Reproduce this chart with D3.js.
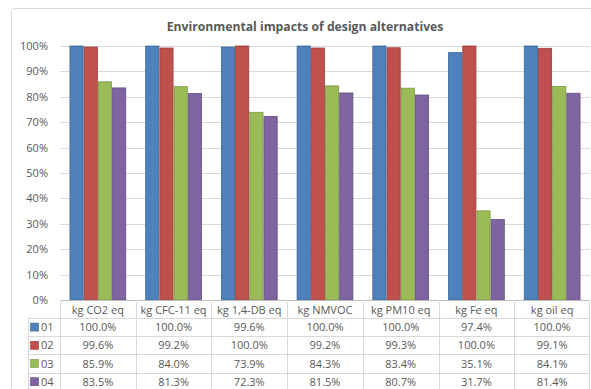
<!DOCTYPE html>
<html>
<head>
<meta charset="utf-8">
<script src="https://cdn.jsdelivr.net/npm/d3@7"></script>
<style>
  html, body { margin: 0; padding: 0; background: #fff; }
  svg { display: block; }
  text { font-family: "Open Sans", "Noto Sans", sans-serif; fill: #595959; }
</style>
</head>
<body>
<script>
// Impact categories and the four design alternatives (share of the maximum)
const categories = ["kg CO2 eq", "kg CFC-11 eq", "kg 1,4-DB eq", "kg NMVOC", "kg PM10 eq", "kg Fe eq", "kg oil eq"];
const seriesNames = ["01", "02", "03", "04"];
const s01 = [100.0, 100.0, 99.6, 100.0, 100.0, 97.4, 100.0];
const s02 = [99.6, 99.2, 100.0, 99.2, 99.3, 100.0, 99.1];
const s03 = [85.9, 84.0, 73.9, 84.3, 83.4, 35.1, 84.1];
const s04 = [83.5, 81.3, 72.3, 81.5, 80.7, 31.7, 81.4];
const yTicks = [0, 10, 20, 30, 40, 50, 60, 70, 80, 90, 100];
const title = "Environmental impacts of design alternatives";

const series = [s01, s02, s03, s04];
const colors = ["#4F81BD", "#C0504D", "#9BBB59", "#8064A2"];
const strokes = ["#3A6596", "#9A3D3A", "#789A43", "#634C82"];

const W = 591, H = 389;
const plot = { left: 60, right: 590, top: 46, bottom: 300 };
const rowH = 18.2, headerH = 18, keyLeft = 28;

const svg = d3.select("body").append("svg").attr("width", W).attr("height", H);

// chart frame
svg.append("rect").attr("x", 11.5).attr("y", 8.5).attr("width", 600).attr("height", 400)
  .attr("rx", 3).attr("fill", "#fff").attr("stroke", "#d9d9d9");

svg.append("text").attr("x", 305).attr("y", 31).attr("text-anchor", "middle")
  .attr("font-size", 12.2).attr("font-weight", "bold").text(title);

const y = d3.scaleLinear().domain([0, 100]).range([plot.bottom, plot.top]);
const x0 = d3.scaleBand().domain(categories).range([plot.left, plot.right]).paddingInner(0.25).paddingOuter(0.125);
const x1 = d3.scaleBand().domain(seriesNames).range([0, x0.bandwidth()]);
const col = d3.scaleBand().domain(categories).range([plot.left, plot.right]);

// gridlines and y axis labels
const yAxis = d3.axisLeft(y).tickValues(yTicks).tickFormat(d => d + "%").tickSize(-(plot.right - plot.left)).tickPadding(12);
const gy = svg.append("g").attr("transform", `translate(${plot.left},0)`).call(yAxis);
gy.select(".domain").remove();
gy.selectAll(".tick line").attr("stroke", "#d9d9d9").attr("shape-rendering", "crispEdges");
gy.selectAll(".tick text").attr("font-size", 11).attr("fill", "#595959").attr("font-family", "'Open Sans', sans-serif");
gy.select(".tick:first-of-type line").remove();

// bars
const groups = svg.append("g").selectAll("g").data(categories).join("g")
  .attr("transform", d => `translate(${x0(d)},0)`);
groups.selectAll("rect")
  .data((c, i) => series.map((s, k) => ({ k, v: s[i] })))
  .join("rect")
  .attr("x", d => x1(seriesNames[d.k]) + 0.5)
  .attr("width", x1.bandwidth() - 1)
  .attr("y", d => y(d.v))
  .attr("height", d => y(0) - y(d.v))
  .attr("fill", d => colors[d.k])
  .attr("stroke", d => strokes[d.k])
  .attr("stroke-width", 0.8);

// data table
const tbl = svg.append("g").attr("stroke", "#d9d9d9").attr("shape-rendering", "crispEdges");
const tTop = plot.bottom, hdrBottom = tTop + headerH, tBottom = hdrBottom + rowH * 4;
// horizontal lines
tbl.append("line").attr("x1", plot.left).attr("x2", plot.right).attr("y1", tTop + 0.5).attr("y2", tTop + 0.5).attr("stroke", "#bfbfbf");
for (let r = 0; r <= 4; r++) {
  const yy = Math.round(hdrBottom + r * rowH) + 0.5;
  tbl.append("line").attr("x1", keyLeft).attr("x2", plot.right).attr("y1", yy).attr("y2", yy);
}
// vertical lines
tbl.append("line").attr("x1", keyLeft + 0.5).attr("x2", keyLeft + 0.5).attr("y1", hdrBottom).attr("y2", tBottom);
categories.forEach(c => {
  const xx = Math.round(col(c)) + 0.5;
  tbl.append("line").attr("x1", xx).attr("x2", xx).attr("y1", tTop).attr("y2", tBottom);
});
tbl.append("line").attr("x1", plot.right - 0.5).attr("x2", plot.right - 0.5).attr("y1", tTop).attr("y2", tBottom);

// header labels
svg.append("g").selectAll("text").data(categories).join("text")
  .attr("x", d => col(d) + col.bandwidth() / 2).attr("y", tTop + 13.5)
  .attr("text-anchor", "middle").attr("font-size", 11).text(d => d);

// rows
seriesNames.forEach((name, k) => {
  const cy = hdrBottom + k * rowH + rowH / 2;
  svg.append("rect").attr("x", 30.5).attr("y", cy - 4).attr("width", 8).attr("height", 8)
    .attr("fill", colors[k]).attr("stroke", strokes[k]).attr("stroke-width", 0.6);
  svg.append("text").attr("x", 41).attr("y", cy + 4).attr("font-size", 11).text(name);
  svg.append("g").selectAll("text").data(categories).join("text")
    .attr("x", d => col(d) + col.bandwidth() / 2).attr("y", cy + 4)
    .attr("text-anchor", "middle").attr("font-size", 11)
    .text((d, i) => series[k][i].toFixed(1) + "%");
});
</script>
</body>
</html>
